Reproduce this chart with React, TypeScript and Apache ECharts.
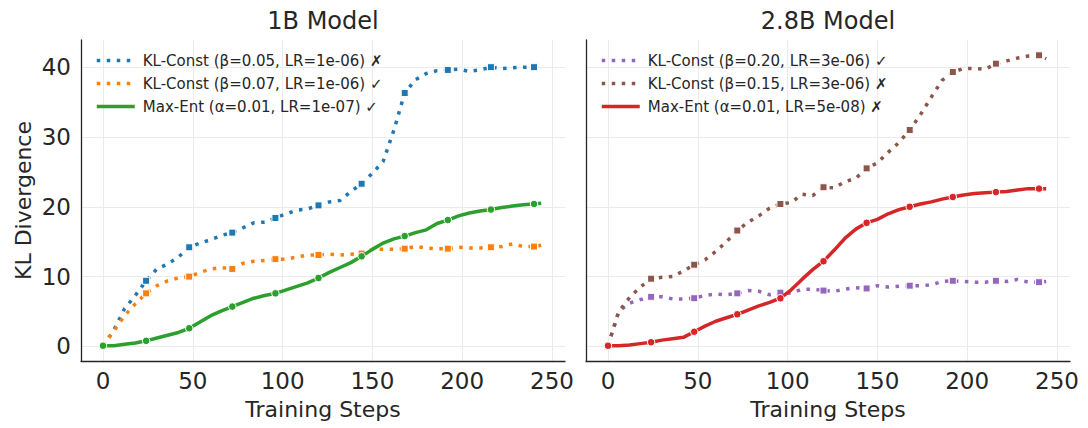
import { useEffect, useRef } from "react";
import * as echarts from "echarts";

const steps = [0, 6, 12, 18, 24, 30, 36, 42, 48, 54, 60, 66, 72, 78, 84, 90, 96, 102, 108, 114, 120, 126, 132, 138, 144, 150, 156, 162, 168, 174, 180, 186, 192, 198, 204, 210, 216, 222, 228, 234, 240, 244];

// 1B model
const klBeta005 = [0.1, 2.3, 5.4, 7.3, 9.4, 11.1, 11.8, 12.8, 14.2, 14.8, 15.3, 15.9, 16.3, 17.0, 17.7, 17.8, 18.4, 19.0, 19.5, 19.7, 20.2, 20.7, 20.9, 22.2, 23.3, 24.8, 26.5, 31.0, 36.3, 38.2, 39.1, 39.5, 39.6, 39.7, 39.4, 39.6, 40.0, 39.8, 39.9, 40.0, 40.0, 39.9];
const klBeta007 = [0.1, 2.2, 4.4, 6.1, 7.6, 8.7, 9.4, 9.8, 10.0, 10.6, 11.1, 11.3, 11.1, 11.9, 12.2, 12.3, 12.5, 12.5, 12.8, 13.1, 13.1, 13.2, 13.1, 13.2, 13.3, 13.9, 13.9, 13.9, 14.0, 14.3, 14.1, 14.0, 14.0, 14.2, 14.1, 14.1, 14.2, 14.3, 14.7, 14.3, 14.3, 14.5];
const maxEnt1B = [0.1, 0.1, 0.3, 0.5, 0.8, 1.2, 1.6, 2.0, 2.6, 3.5, 4.4, 5.1, 5.7, 6.3, 6.9, 7.3, 7.6, 8.1, 8.6, 9.1, 9.8, 10.6, 11.3, 12.0, 12.9, 13.9, 14.8, 15.4, 15.8, 16.3, 16.7, 17.6, 18.1, 18.7, 19.1, 19.4, 19.6, 19.9, 20.1, 20.3, 20.4, 20.5];

// 2.8B model
const klBeta020 = [0.1, 5.0, 6.2, 6.7, 7.1, 7.1, 6.8, 6.8, 6.9, 7.3, 7.5, 7.4, 7.6, 8.0, 7.9, 7.4, 7.7, 7.6, 8.2, 8.2, 8.0, 7.9, 8.2, 8.4, 8.3, 8.7, 8.5, 8.6, 8.7, 8.7, 8.8, 9.3, 9.4, 9.3, 9.2, 9.2, 9.4, 9.3, 9.6, 9.2, 9.2, 9.3];
const klBeta015 = [0.1, 5.0, 7.0, 8.5, 9.7, 9.9, 10.0, 10.8, 11.7, 12.4, 13.6, 15.0, 16.6, 17.8, 18.7, 19.8, 20.4, 20.6, 21.8, 21.6, 22.8, 22.7, 23.6, 24.1, 25.5, 26.3, 27.8, 29.2, 31.0, 33.2, 35.7, 38.1, 39.3, 39.8, 39.8, 39.7, 40.5, 40.9, 41.3, 41.6, 41.7, 41.2];
const maxEnt28B = [0.1, 0.1, 0.2, 0.4, 0.6, 0.9, 1.1, 1.3, 2.1, 2.9, 3.6, 4.1, 4.6, 5.2, 5.8, 6.3, 6.9, 8.1, 9.6, 11.0, 12.2, 13.8, 15.5, 16.8, 17.7, 18.2, 19.0, 19.6, 20.0, 20.4, 20.7, 21.1, 21.4, 21.7, 21.9, 22.0, 22.1, 22.2, 22.4, 22.6, 22.6, 22.6];

const xTicks = [0, 50, 100, 150, 200, 250];
const yTicks = [0, 10, 20, 30, 40];
const titles = ["1B Model", "2.8B Model"];
const markerEvery = 24;

const defs = [
  { name: "KL-Const (β=0.05, LR=1e-06) ✗", values: klBeta005, color: "#1f77b4", dotted: true, panel: 0 },
  { name: "KL-Const (β=0.07, LR=1e-06) ✓", values: klBeta007, color: "#ff7f0e", dotted: true, panel: 0 },
  { name: "Max-Ent (α=0.01, LR=1e-07) ✓", values: maxEnt1B, color: "#2ca02c", dotted: false, panel: 0 },
  { name: "KL-Const (β=0.20, LR=3e-06) ✓", values: klBeta020, color: "#9467bd", dotted: true, panel: 1 },
  { name: "KL-Const (β=0.15, LR=3e-06) ✗", values: klBeta015, color: "#8c564b", dotted: true, panel: 1 },
  { name: "Max-Ent (α=0.01, LR=5e-08) ✗", values: maxEnt28B, color: "#d62728", dotted: false, panel: 1 },
];

const FONT = "DejaVu Sans";
const TEXT = "#262626";

export default function App() {
  const ref = useRef<HTMLDivElement>(null);
  useEffect(() => {
    if (!ref.current) return;
    const chart = echarts.init(ref.current, undefined, { renderer: "svg" });
    const grids = [
      { left: 81, top: 40, width: 484, height: 321 },
      { left: 586, top: 40, width: 484, height: 321 },
    ];
    const xAxes = grids.map((_, i) => ({
      type: "value",
      gridIndex: i,
      min: -12.25,
      max: 257.25,
      name: "Training Steps",
      nameLocation: "middle",
      nameGap: 37,
      nameTextStyle: { fontFamily: FONT, fontSize: 22, color: TEXT },
      axisLine: { show: true, onZero: false, lineStyle: { color: "#262626", width: 1.3 } },
      axisTick: { show: false, customValues: xTicks },
      axisLabel: { customValues: xTicks, fontFamily: FONT, fontSize: 23, color: TEXT, margin: 8 },
      splitLine: { show: true, lineStyle: { color: "#ebebeb", width: 1 } },
    }));
    const yAxes = grids.map((_, i) => ({
      type: "value",
      gridIndex: i,
      min: -2.09,
      max: 43.89,
      name: i === 0 ? "KL Divergence" : "",
      nameLocation: "middle",
      nameGap: 47,
      nameTextStyle: { fontFamily: FONT, fontSize: 22, color: TEXT },
      axisLine: { show: true, onZero: false, lineStyle: { color: "#262626", width: 1.3 } },
      axisTick: { show: false, customValues: yTicks },
      axisLabel: { show: i === 0, customValues: yTicks, fontFamily: FONT, fontSize: 23, color: TEXT, margin: 10 },
      splitLine: { show: true, lineStyle: { color: "#ebebeb", width: 1 } },
    }));
    const series: any[] = [];
    defs.forEach((d, k) => {
      const pts = steps.map((s, i) => [s, d.values[i]]);
      series.push({
        type: "line",
        name: d.name,
        xAxisIndex: d.panel,
        yAxisIndex: d.panel,
        data: pts,
        symbol: "none",
        showSymbol: false,
        z: 2 + k,
        lineStyle: { color: d.color, width: 3.5, type: d.dotted ? [3.5, 6.5] : "solid", cap: "butt" },
        itemStyle: { color: d.color },
        emphasis: { disabled: true },
      });
      series.push({
        type: "scatter",
        name: d.name + " markers",
        xAxisIndex: d.panel,
        yAxisIndex: d.panel,
        data: pts.filter((p) => p[0] % markerEvery === 0),
        symbol: d.dotted ? "rect" : "circle",
        symbolSize: d.dotted ? 7 : 7.5,
        z: 2 + k,
        itemStyle: { color: d.color, borderColor: "#ffffff", borderWidth: 1, opacity: 1 },
        emphasis: { disabled: true },
      });
    });
    const legends = [0, 1].map((p) => ({
      data: defs.filter((d) => d.panel === p).map((d) => d.name),
      orient: "vertical",
      left: grids[p].left + 9,
      top: 48,
      itemWidth: 38,
      itemHeight: 14,
      itemGap: 8,
      selectedMode: false,
      itemStyle: { opacity: 0 },
      lineStyle: { width: 3.5 },
      textStyle: { fontFamily: FONT, fontSize: 15, color: TEXT, padding: [0, 0, 0, 3] },
    }));
    chart.setOption({
      animation: false,
      grid: grids,
      xAxis: xAxes,
      yAxis: yAxes,
      legend: legends,
      series,
      graphic: titles.map((t, i) => ({
        type: "text",
        x: grids[i].left + grids[i].width / 2,
        y: 21,
        style: { text: t, fontFamily: FONT, fontSize: 24, fill: TEXT, textAlign: "center", textVerticalAlign: "middle" },
      })),
    });
    return () => chart.dispose();
  }, []);
  return (
    <div style={{ position: "fixed", left: 0, top: 0, width: 1088, height: 428, background: "#ffffff" }}>
      <div ref={ref} style={{ width: 1088, height: 428 }} />
    </div>
  );
}
